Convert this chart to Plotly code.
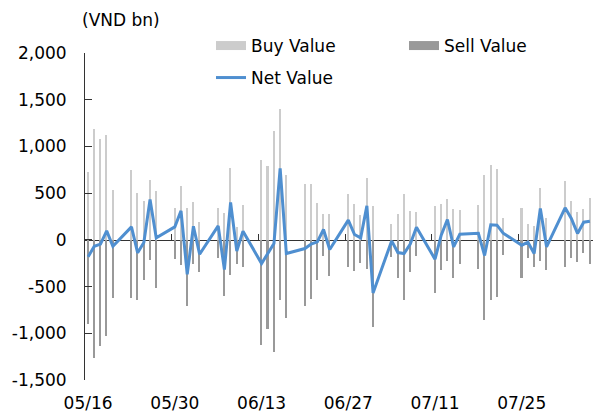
import plotly.graph_objects as go

dates = [
    "2022-05-16", "2022-05-17", "2022-05-18", "2022-05-19", "2022-05-20",
    "2022-05-23", "2022-05-24", "2022-05-25", "2022-05-26", "2022-05-27",
    "2022-05-30", "2022-05-31", "2022-06-01", "2022-06-02", "2022-06-03",
    "2022-06-06", "2022-06-07", "2022-06-08", "2022-06-09", "2022-06-10",
    "2022-06-13", "2022-06-14", "2022-06-15", "2022-06-16", "2022-06-17",
    "2022-06-20", "2022-06-21", "2022-06-22", "2022-06-23", "2022-06-24",
    "2022-06-27", "2022-06-28", "2022-06-29", "2022-06-30", "2022-07-01",
    "2022-07-04", "2022-07-05", "2022-07-06", "2022-07-07", "2022-07-08",
    "2022-07-11", "2022-07-12", "2022-07-13", "2022-07-14", "2022-07-15",
    "2022-07-18", "2022-07-19", "2022-07-20", "2022-07-21", "2022-07-22",
    "2022-07-25", "2022-07-26", "2022-07-27", "2022-07-28", "2022-07-29",
    "2022-08-01", "2022-08-02", "2022-08-03", "2022-08-04", "2022-08-05",
]

buy_value = [
    728, 1182, 1075, 1121, 539,
    753, 503, 414, 646, 521,
    336, 575, 343, 403, 196,
    336, 286, 764, 139, 378,
    860, 789, 1168, 1400, 689,
    603, 596, 396, 275, 282,
    496, 382, 264, 664, 361,
    175, 275, 489, 307, 303,
    361, 382, 436, 329, 318,
    371, 693, 800, 757, 236,
    346, 168, 146, 557, 239,
    628, 418, 300, 325, 453,
]

sell_value = [
    -903, -1260, -1135, -1025, -618,
    -625, -646, -428, -218, -510,
    -204, -268, -707, -261, -346,
    -189, -596, -375, -257, -289,
    -1121, -950, -1200, -646, -836,
    -703, -636, -425, -168, -386,
    -289, -332, -246, -307, -932,
    -182, -411, -639, -339, -171,
    -568, -325, -229, -404, -254,
    -307, -853, -639, -611, -157,
    -404, -193, -289, -225, -318,
    -289, -189, -232, -136, -254,
]

net_value = [
    -182, -68, -46, 96, -68,
    139, -139, -29, 432, 21,
    139, 311, -368, 146, -154,
    150, -318, 400, -121, 93,
    -254, -146, -39, 764, -146,
    -93, -46, -21, 111, -104,
    211, 57, 21, 364, -568,
    -11, -136, -146, -46, 136,
    -207, 50, 218, -75, 61,
    71, -168, 161, 157, 71,
    -57, -25, -146, 336, -75,
    343, 229, 68, 189, 200,
]

ytick_vals = [2000, 1500, 1000, 500, 0, -500, -1000, -1500]
ytick_text = ["2,000", "1,500", "1,000", "500", "0", "-500", "-1,000", "-1,500"]

DAY = 86400000
FONT = "DejaVu Sans"
FS = 17
AXIS = "#333333"
BUY_C = "#cccccc"
SELL_C = "#999999"
NET_C = "#4f8fd0"
X_RANGE = ["2022-05-16", "2022-08-06"]

fig = go.Figure()

fig.add_trace(go.Bar(
    x=dates, y=buy_value, name="Buy Value",
    marker=dict(color=BUY_C, line=dict(width=0)),
    width=0.25 * DAY, xperiod=DAY, xperiodalignment="middle",
    showlegend=False,
))
fig.add_trace(go.Bar(
    x=dates, y=sell_value, name="Sell Value",
    marker=dict(color=SELL_C, line=dict(width=0)),
    width=0.25 * DAY, xperiod=DAY, xperiodalignment="middle",
    showlegend=False,
))
fig.add_trace(go.Scatter(
    x=dates, y=net_value, name="Net Value", mode="lines",
    line=dict(color=NET_C, width=3),
    xperiod=DAY, xperiodalignment="middle",
    xaxis="x2", showlegend=False,
))

# legend-only entries (wide swatches like the original)
fig.add_trace(go.Scatter(x=[None], y=[None], mode="lines", name="Buy Value",
                         line=dict(color=BUY_C, width=9), legend="legend"))
fig.add_trace(go.Scatter(x=[None], y=[None], mode="lines", name="Sell Value",
                         line=dict(color=SELL_C, width=9), legend="legend"))
fig.add_trace(go.Scatter(x=[None], y=[None], mode="lines", name="Net Value",
                         line=dict(color=NET_C, width=3), legend="legend2"))

fig.update_layout(
    width=597, height=416,
    margin=dict(l=85, r=4, t=53, b=36, autoexpand=False),
    paper_bgcolor="white", plot_bgcolor="white",
    font=dict(family=FONT, size=FS, color="#000000"),
    barmode="relative", bargap=0,
    xaxis=dict(
        type="date", range=X_RANGE, automargin=False,
        tick0="2022-05-16 12:00", dtick=14 * DAY, tickformat="%m/%d",
        showgrid=False, showline=False, zeroline=False, ticks="",
        ticklabelstandoff=11,
        tickfont=dict(family=FONT, size=FS, color="#000000"),
    ),
    xaxis2=dict(
        type="date", range=X_RANGE, overlaying="x", anchor="free",
        position=1500 / 3500, automargin=False,
        tick0="2022-05-16", dtick=14 * DAY,
        showgrid=False, zeroline=False,
        showline=True, linecolor=AXIS, linewidth=1.3,
        ticks="inside", ticklen=6, tickcolor=AXIS, tickwidth=1.3,
        showticklabels=False, layer="below traces",
    ),
    yaxis=dict(
        range=[-1500, 2000], tickvals=ytick_vals, ticktext=ytick_text,
        automargin=False,
        showgrid=False, zeroline=False,
        showline=True, linecolor=AXIS, linewidth=1,
        ticks="inside", ticklen=7, tickcolor=AXIS,
        ticklabelstandoff=14,
        tickfont=dict(family=FONT, size=FS, color="#000000"),
    ),
    legend=dict(
        orientation="h", xref="container", yref="container",
        x=211 / 597, y=1 - 46 / 416, xanchor="left", yanchor="middle",
        entrywidth=148, entrywidthmode="pixels",
        bgcolor="rgba(0,0,0,0)", font=dict(family=FONT, size=FS),
    ),
    legend2=dict(
        orientation="h", xref="container", yref="container",
        x=211 / 597, y=1 - 78 / 416, xanchor="left", yanchor="middle",
        bgcolor="rgba(0,0,0,0)", font=dict(family=FONT, size=FS),
    ),
    annotations=[dict(
        text="(VND bn)", xref="paper", yref="paper", x=-0.01, y=1 + 33 / 327,
        xanchor="left", yanchor="middle", showarrow=False,
        font=dict(family=FONT, size=FS, color="#000000"),
    )],
)

fig.write_html(
    "out.html",
    config={"displayModeBar": False},
    post_script="document.body.style.margin='0';",
)
